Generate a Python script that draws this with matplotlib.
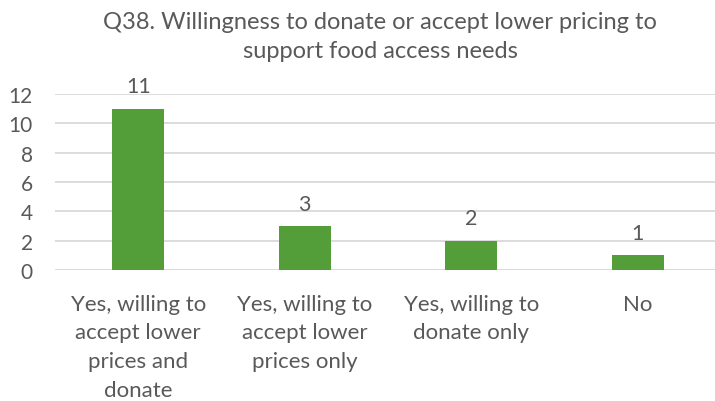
import matplotlib
matplotlib.use("Agg")
import matplotlib.pyplot as plt

categories = [
    "Yes, willing to\naccept lower\nprices and\ndonate",
    "Yes, willing to\naccept lower\nprices only",
    "Yes, willing to\ndonate only",
    "No",
]
counts = [11, 3, 2, 1]
yticks = [0, 2, 4, 6, 8, 10, 12]

plt.rcParams["font.family"] = ["Lato", "DejaVu Sans"]
text_color = "#595959"

fig = plt.figure(figsize=(7.15, 4.02), dpi=100)
# axes run slightly past the right edge so the grid fills the width
ax = fig.add_axes([55 / 715, 1 - 271 / 402, 666 / 715, 176 / 402])

x = range(len(categories))
bars = ax.bar(x, counts, width=0.312, color="#549E39", zorder=3)
for b, v in zip(bars, counts):
    ax.text(b.get_x() + b.get_width() / 2, v + 0.85, str(v),
            ha="center", va="bottom", fontsize=15.5, color=text_color)

ax.set_xlim(-0.5, len(categories) - 0.5)
ax.set_ylim(0, 12)
ax.set_yticks(yticks)
ax.yaxis.grid(True, color="#D9D9D9", linewidth=1.3, zorder=0)
for s in ax.spines.values():
    s.set_visible(False)
ax.tick_params(axis="both", length=0, colors=text_color)
ax.tick_params(axis="y", pad=16, labelsize=15)
ax.set_xticks(list(x))
ax.set_xticklabels(categories, linespacing=1.55)
ax.tick_params(axis="x", pad=17, labelsize=16)

fig.text(380 / 715, 1 - 37 / 402,
         "Q38. Willingness to donate or accept lower pricing to\nsupport food access needs",
         ha="center", va="center", fontsize=17, color=text_color, linespacing=1.45)

fig.savefig("out.png", dpi=100)
